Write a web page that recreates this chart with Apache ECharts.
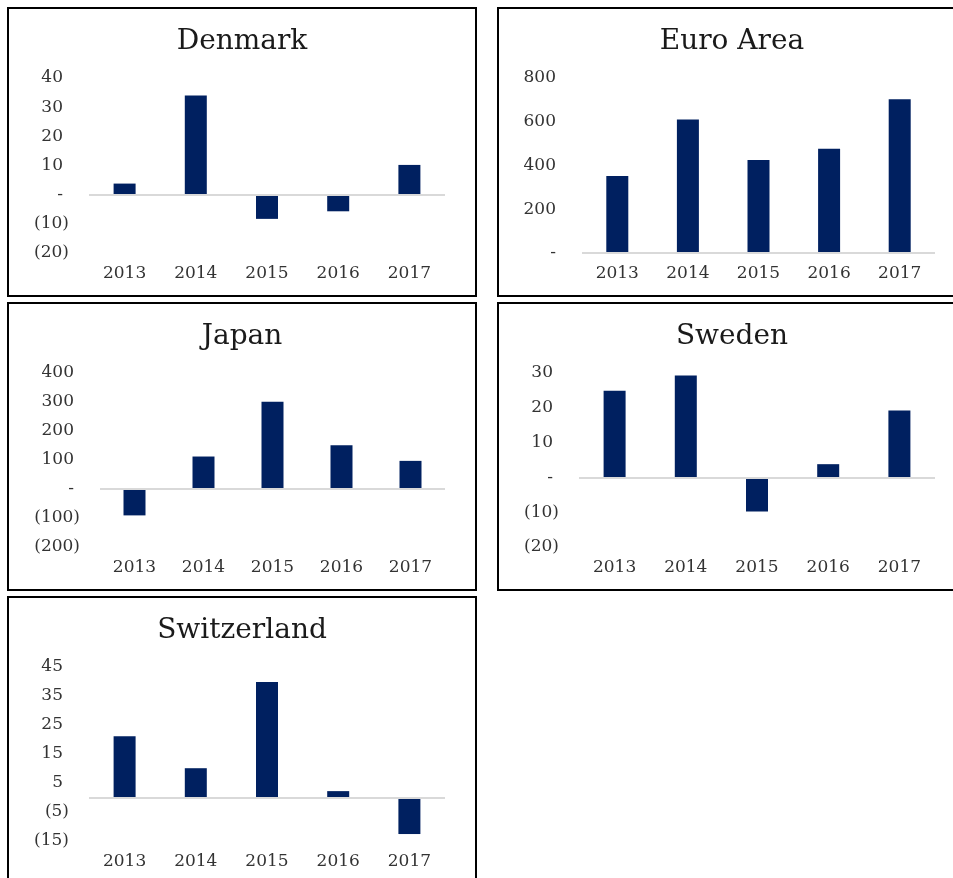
<!DOCTYPE html>
<html>
<head>
<meta charset="utf-8">
<script src="https://cdn.jsdelivr.net/npm/echarts@6/dist/echarts.min.js"></script>
<style>
    html, body { margin: 0; padding: 0; background: #fff; }
    .panel { position: absolute; border: 2px solid #000; background: #fff; }
    .panel > div { width: 100%; height: 100%; }
</style>
</head>
<body>
<div class="panel" style="left:7px;top:7px;width:466px;height:286px;"><div id="denmark"></div></div>
<div class="panel" style="left:497px;top:7px;width:466px;height:286px;"><div id="euro-area"></div></div>
<div class="panel" style="left:7px;top:302px;width:466px;height:285px;"><div id="japan"></div></div>
<div class="panel" style="left:497px;top:302px;width:466px;height:285px;"><div id="sweden"></div></div>
<div class="panel" style="left:7px;top:596px;width:466px;height:285px;"><div id="switzerland"></div></div>

<script>
    const years = ['2013', '2014', '2015', '2016', '2017']

    const denmark = [3.8, 34, -8.3, -5.7, 10.2]
    const euroArea = [352, 610, 425, 477, 703]
    const japan = [-91, 112, 301, 151, 97]
    const sweden = [24.9, 29.3, -9.8, 3.8, 19.2]
    const switzerland = [21.1, 10.1, 39.8, 2.2, -12.6]

    // y axis: [min, max, interval]
    const denmarkTicks = [-20, 40, 10]
    const euroAreaTicks = [0, 800, 200]
    const japanTicks = [-200, 400, 100]
    const swedenTicks = [-20, 30, 10]
    const switzerlandTicks = [-15, 45, 10]

    const BAR_COLOR = '#002060'
    const LABEL_COLOR = '#333333'
    const FONT = 'DejaVu Serif'

    // accounting style labels: (10), -, 40
    function tickLabel (v) {
        if (v < 0) return '(' + Math.abs(v) + ')'
        if (v === 0) return '{p|-}'
        return '{p|' + v + '}'
    }

    function drawPanel (id, title, data, ticks, gridLeft) {
        const chart = echarts.init(document.getElementById(id))
        chart.setOption({
            animation: false,
            title: {
                text: title,
                left: 'center',
                top: 14,
                textStyle: { fontFamily: FONT, fontSize: 28, fontWeight: 'normal', color: '#1a1a1a' }
            },
            grid: { left: gridLeft, right: 30, top: 69, bottom: 42 },
            xAxis: {
                type: 'category',
                data: years,
                axisLine: { show: false, onZero: false },
                axisTick: { show: false },
                axisLabel: { margin: 12, fontFamily: FONT, fontSize: 17, color: LABEL_COLOR }
            },
            yAxis: {
                type: 'value',
                min: ticks[0],
                max: ticks[1],
                interval: ticks[2],
                splitLine: { show: false },
                axisLine: { show: false },
                axisTick: { show: false },
                axisLabel: {
                    margin: 20,
                    fontFamily: FONT,
                    fontSize: 17,
                    color: LABEL_COLOR,
                    formatter: tickLabel,
                    rich: {
                        p: { fontFamily: FONT, fontSize: 17, color: LABEL_COLOR, padding: [0, 6, 0, 0] }
                    }
                }
            },
            series: [
                {
                    type: 'bar',
                    data: data,
                    barWidth: 22,
                    itemStyle: { color: BAR_COLOR },
                    markLine: {
                        silent: true,
                        symbol: ['none', 'none'],
                        label: { show: false },
                        lineStyle: { color: '#d9d9d9', width: 2, type: 'solid' },
                        data: [{ yAxis: 0 }]
                    }
                }
            ]
        })
    }

    drawPanel('denmark', 'Denmark', denmark, denmarkTicks, 80)
    drawPanel('euro-area', 'Euro Area', euroArea, euroAreaTicks, 83)
    drawPanel('japan', 'Japan', japan, japanTicks, 91)
    drawPanel('sweden', 'Sweden', sweden, swedenTicks, 80)
    drawPanel('switzerland', 'Switzerland', switzerland, switzerlandTicks, 80)
</script>
</body>
</html>
